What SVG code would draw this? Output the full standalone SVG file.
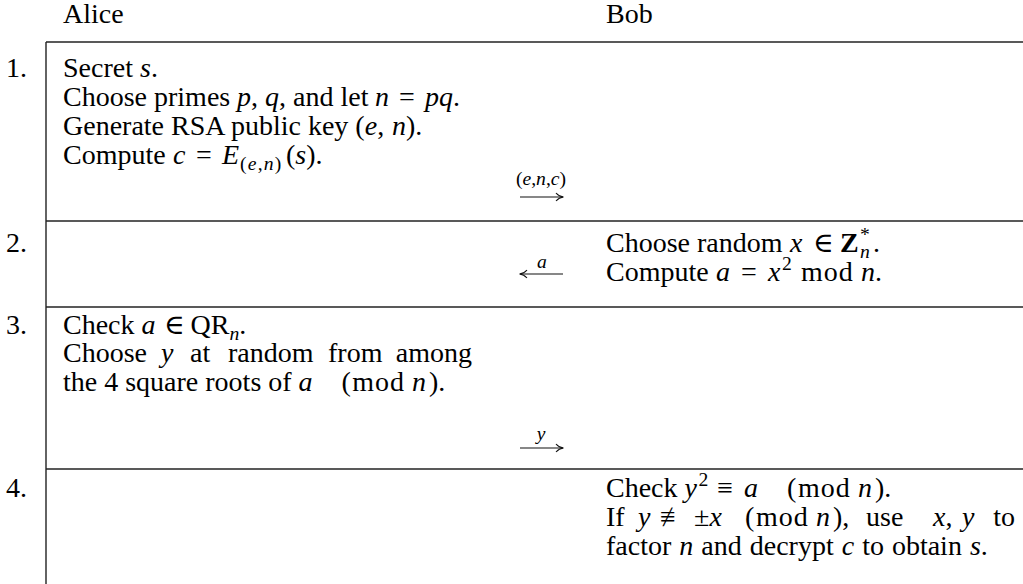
<svg xmlns="http://www.w3.org/2000/svg" width="1023" height="584" viewBox="0 0 1023 584">
<defs>
<style>
text{font-family:"Liberation Serif","DejaVu Serif",serif;font-size:28px;fill:#000}
.m{font-style:italic}
.b{font-weight:bold}
.s{font-size:19.6px}
.sub{font-size:19.6px;letter-spacing:1.2px}
.lbl{font-size:19.6px;text-anchor:middle}
.rule{stroke:#222;stroke-width:1.4;fill:none}
.arr{stroke:#111;stroke-width:1.2;fill:none}
</style>
<marker id="head" viewBox="0 0 10 10" refX="9" refY="5" markerWidth="10" markerHeight="10" markerUnits="userSpaceOnUse" orient="auto-start-reverse">
<path d="M2,1 Q5,4.5 9.5,5 Q5,5.5 2,9" fill="none" stroke="#111" stroke-width="1.1"/>
</marker>
</defs>
<rect width="1023" height="584" fill="#fff"/>

<g id="table-rules">
<line class="rule" x1="46" y1="42" x2="1023" y2="42"/>
<line class="rule" x1="46" y1="42" x2="46" y2="584"/>
<line class="rule" x1="46" y1="221" x2="1023" y2="221"/>
<line class="rule" x1="46" y1="307" x2="1023" y2="307"/>
<line class="rule" x1="46" y1="469" x2="1023" y2="469"/>
</g>

<g id="headers">
<text x="63" y="23">Alice</text>
<text x="606" y="23">Bob</text>
</g>

<g id="step1">
<text x="6" y="77">1.</text>
<text x="63" y="77">Secret <tspan class="m">s</tspan>.</text>
<text x="63" y="106">Choose primes <tspan x="237" class="m">p</tspan>, <tspan x="265" class="m">q</tspan>, and let <tspan x="375" class="m">n</tspan><tspan x="399">=</tspan><tspan x="425" class="m">pq</tspan>.</text>
<text x="63" y="135">Generate RSA public key (<tspan class="m">e</tspan>,<tspan x="392" class="m">n</tspan>).</text>
<text x="63" y="164">Compute <tspan x="173" class="m">c</tspan><tspan x="196">=</tspan><tspan x="222" class="m">E</tspan><tspan x="240" dy="6" class="sub">(<tspan class="m">e</tspan>,<tspan class="m">n</tspan>)</tspan><tspan x="286" dy="-6">(</tspan><tspan class="m">s</tspan>).</text>
</g>

<g id="step2">
<text x="6" y="252">2.</text>
<text x="606" y="252">Choose random <tspan x="790" class="m">x</tspan><tspan x="813">∈</tspan><tspan x="840" class="b">Z</tspan><tspan x="860" class="s" dy="-11">*</tspan><tspan x="860" class="s m" dy="17">n</tspan><tspan x="873" dy="-6">.</tspan></text>
<text x="606" y="281">Compute <tspan x="716" class="m">a</tspan><tspan x="741">=</tspan><tspan x="768" class="m">x</tspan><tspan x="782" class="s" dy="-11">2</tspan><tspan x="801" dy="11" style="letter-spacing:1px">mod</tspan><tspan x="861" class="m">n</tspan>.</text>
</g>

<g id="step3">
<text x="6" y="334">3.</text>
<text x="63" y="334">Check <tspan x="141.5" class="m">a</tspan><tspan x="164">∈</tspan><tspan x="190.6">QR</tspan><tspan class="s m" dy="6">n</tspan><tspan dy="-6">.</tspan></text>
<text x="63" y="362">Choose</text>
<text x="161" y="362" class="m">y</text>
<text x="190" y="362">at</text>
<text x="228" y="362">random</text>
<text x="328" y="362">from</text>
<text x="472" y="362" text-anchor="end">among</text>
<text x="63" y="391">the 4 square roots of <tspan x="298.6" class="m">a</tspan><tspan x="341.4">(</tspan><tspan x="352.3" style="letter-spacing:1px">mod</tspan><tspan x="412" class="m">n</tspan><tspan x="429">).</tspan></text>
</g>

<g id="step4">
<text x="6" y="497">4.</text>
<text x="606" y="497">Check <tspan x="684.5" class="m">y</tspan><tspan x="698.5" class="s" dy="-11">2</tspan><tspan x="717.2" dy="11">≡</tspan><tspan x="744" class="m">a</tspan><tspan x="787">(</tspan><tspan x="798" style="letter-spacing:1px">mod</tspan><tspan x="858" class="m">n</tspan><tspan x="875">).</tspan></text>
<text x="606" y="526">If</text>
<text x="638" y="526" class="m">y</text>
<text x="660" y="526">≢</text>
<text x="694" y="526">±<tspan class="m">x</tspan></text>
<text x="745" y="526">(<tspan x="756" style="letter-spacing:1px">mod</tspan><tspan x="816" class="m">n</tspan><tspan x="833">),</tspan></text>
<text x="866" y="526">use</text>
<text x="933" y="526"><tspan class="m">x</tspan>,<tspan x="962" class="m">y</tspan></text>
<text x="1015" y="526" text-anchor="end">to</text>
<text x="606" y="555" style="word-spacing:1px">factor <tspan class="m">n</tspan> and decrypt <tspan class="m">c</tspan> to obtain <tspan class="m">s</tspan>.</text>
</g>

<g id="connectors">
<line class="arr" x1="520" y1="197" x2="563" y2="197" marker-end="url(#head)"/>
<text class="lbl" x="541" y="185">(<tspan class="m">e</tspan>,<tspan class="m">n</tspan>,<tspan class="m">c</tspan>)</text>
<line class="arr" x1="563" y1="274" x2="520" y2="274" marker-end="url(#head)"/>
<text class="lbl m" x="542" y="268">a</text>
<line class="arr" x1="520" y1="448" x2="563" y2="448" marker-end="url(#head)"/>
<text class="lbl m" x="541" y="440">y</text>
</g>
</svg>
